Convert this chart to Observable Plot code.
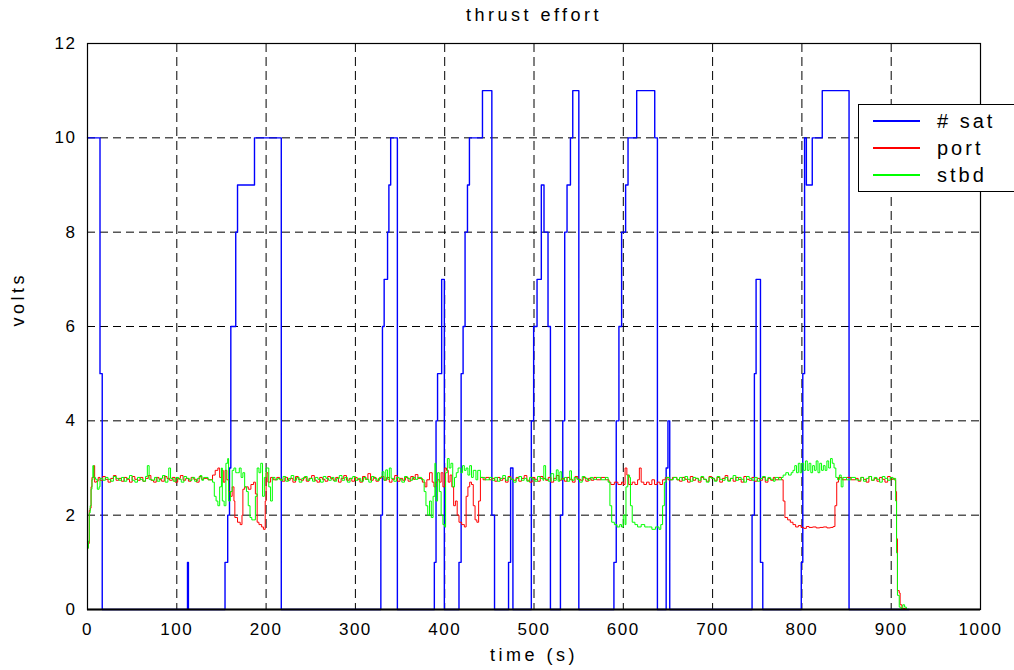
<!DOCTYPE html>
<html>
<head>
<meta charset="utf-8">
<script src="https://cdn.jsdelivr.net/npm/d3@7"></script>
<script src="https://cdn.jsdelivr.net/npm/@observablehq/plot@0.6"></script>
<style>
  html, body { margin: 0; padding: 0; background: #fff; overflow: hidden; }
  #wrap { position: relative; width: 1014px; height: 670px; overflow: hidden; }
  #legend { position: absolute; left: 858px; top: 104px; width: 170px; height: 86px;
    border: 1.5px solid #000; background: #fff; font-family: "Liberation Sans", Arial, sans-serif;
    font-size: 20px; letter-spacing: 3px; color: #000; }
  .row { position: absolute; left: 0; height: 26px; display: flex; align-items: center; }
  .sw { width: 47px; height: 2px; margin-left: 14px; margin-right: 17px; }
  svg g[aria-label="grid"] line { shape-rendering: crispEdges; }
</style>
</head>
<body>
<div id="wrap"></div>
<script>
// ---- data ----
const xTicks = [0, 100, 200, 300, 400, 500, 600, 700, 800, 900, 1000];
const yTicks = [0, 2, 4, 6, 8, 10, 12];
const seriesNames = ["# sat", "port", "stbd"];

// # satellites (step changes)
const satT = [0, 14, 16.5, 112, 113, 154, 157, 159, 160.5, 166, 168, 187, 217,
  328.5, 330.3, 332.2, 336, 337.5, 339.5, 347,
  388.4, 390.3, 392, 396.6, 399.6,
  416, 418.4, 420.6, 422.8, 425.5, 427.7, 442.3, 452.8, 455.8,
  471.5, 473.8, 476.4,
  497, 499.6, 503.4, 508.2, 511.2, 515.7, 518.4,
  529.6, 532.2, 534.4, 537, 540.8, 543.4, 550.2,
  589.5, 592.1, 595.1, 598.1, 602.6, 605.3, 615, 635.2, 638.2,
  648, 650, 652,
  744.2, 746.8, 748.7, 753.6, 756.2,
  799.3, 801, 803, 805, 811.6, 822.8, 852.8, 920];
const satV = [10, 5, 0, 1, 0, 1, 2, 3, 6, 8, 9, 10, 0,
  2, 6, 7, 8, 9, 10, 0,
  1, 4, 5, 7, 0,
  1, 5, 6, 8, 9, 10, 11, 2, 0,
  1, 3, 0,
  4, 6, 7, 9, 8, 6, 0,
  2, 4, 8, 9, 10, 11, 0,
  1, 4, 6, 8, 9, 10, 11, 10, 0,
  3, 4, 0,
  2, 5, 7, 1, 0,
  1, 5, 10, 9, 10, 11, 0, 0];

// port thruster
const portT = [0,1,2,3,4,5,7,8,10,12,14,17,20,23,26,29,32,35,38,41,44,47,50,53,56,59,62,65,68,71,74,77,80,83,86,89,92,95,98,101,104,107,110,113,116,119,122,125,128,
  130,135,140,143,146,148,150,152,154,156,158,160,162,164,165,168,171,173,174,176,178,180,183,186,188,190,192,195,197,199,200,202,205,208,212,
  215,218,221,224,227,230,233,236,239,242,245,248,251,254,257,260,263,266,269,272,275,278,281,284,287,290,293,296,299,302,305,308,311,314,317,320,323,326,
  329,332,335,338,341,344,347,350,353,356,359,362,365,367,
  370,375,378,380,383,386,388,390,392,394,396,398,400,402,404,406,408,410,412,414,416,419,422,424,426,428,430,432,434,436,438,440,443,446,450,
  453,456,459,462,465,468,471,474,477,480,483,486,489,492,495,498,501,504,507,510,513,516,519,522,525,528,531,534,537,540,543,546,549,552,555,558,561,564,567,
  570,575,580,584,586,590,594,598,600,602,604,606,610,613,616,618,620,623,626,629,632,635,638,641,644,647,650,655,660,
  663,666,669,672,675,678,681,684,687,690,693,696,699,702,705,708,711,714,717,720,723,726,729,732,735,738,741,744,747,750,753,756,759,762,765,768,
  770,774,777,779,781,784,787,790,793,796,799,802,805,808,812,816,820,824,828,832,835,837,839,841,845,850,855,860,
  863,866,869,872,875,878,881,884,887,890,893,896,899,902,904,905,906,907,909,910,912,916,920];
const portV = [1.30,1.40,2.10,2.15,2.60,2.80,3.05,2.70,2.72,2.80,2.74,2.82,2.76,2.70,2.78,2.84,2.74,2.78,2.72,2.80,2.76,2.70,2.82,2.76,2.74,2.80,2.72,2.78,2.84,2.74,2.70,2.80,2.76,2.72,2.82,2.78,2.74,2.80,2.70,2.78,2.84,2.74,2.78,2.72,2.80,2.76,2.70,2.82,2.76,
  2.78,2.75,2.85,2.95,3.00,2.80,2.95,2.70,2.95,2.75,2.50,2.40,2.60,2.30,1.95,1.85,1.80,2.00,2.55,2.60,2.60,2.55,2.65,2.70,2.45,1.85,1.80,1.75,1.70,2.30,2.90,2.70,2.80,2.75,2.80,
  2.76,2.72,2.80,2.74,2.78,2.70,2.82,2.76,2.74,2.80,2.72,2.78,2.84,2.74,2.70,2.80,2.76,2.72,2.82,2.78,2.74,2.80,2.70,2.78,2.84,2.74,2.78,2.72,2.80,2.76,2.70,2.82,2.76,2.88,2.74,2.80,2.72,2.78,
  2.82,2.74,2.80,2.70,2.76,2.84,2.72,2.78,2.74,2.80,2.72,2.82,2.76,2.86,
  2.78,2.70,2.60,2.75,2.90,2.70,2.60,2.70,2.75,2.70,2.90,2.60,3.00,2.95,2.70,2.85,2.60,2.20,2.30,2.00,1.85,1.80,1.75,2.40,2.60,2.70,2.65,2.20,1.90,1.85,2.30,2.80,2.75,2.80,2.75,
  2.78,2.72,2.80,2.74,2.78,2.70,2.82,2.76,2.74,2.80,2.72,2.78,2.84,2.74,2.70,2.80,2.76,2.72,2.82,2.78,2.74,2.80,2.70,2.78,2.84,2.74,2.78,2.72,2.80,2.76,2.70,2.82,2.76,2.74,2.80,2.72,2.78,2.74,2.80,
  2.75,2.80,2.75,2.70,2.65,2.70,2.65,2.70,2.65,3.00,2.85,2.65,2.70,2.65,2.75,3.00,2.70,2.65,2.70,2.65,2.75,2.65,2.70,2.65,2.75,2.80,2.75,2.80,2.75,
  2.72,2.80,2.76,2.70,2.82,2.74,2.78,2.70,2.80,2.76,2.72,2.82,2.78,2.74,2.80,2.70,2.78,2.84,2.74,2.78,2.72,2.80,2.76,2.70,2.82,2.76,2.74,2.80,2.72,2.78,2.74,2.80,2.70,2.78,2.74,2.80,
  2.75,2.80,2.75,2.30,1.95,1.90,1.85,1.80,1.75,1.78,1.74,1.72,1.76,1.74,1.75,1.73,1.74,1.75,1.73,1.74,1.76,2.20,2.70,2.80,2.75,2.80,2.75,2.78,
  2.72,2.80,2.76,2.70,2.82,2.74,2.78,2.72,2.80,2.76,2.70,2.82,2.76,2.78,2.74,2.50,1.50,0.40,0.35,0.10,0.02,0.00,0.00];

// starboard thruster
const stbdT = [0,1,2,3,4,5,6,7,9,11,13,14,17,20,23,26,29,32,35,38,41,44,47,50,53,56,59,62,65,67,69,72,75,78,81,84,87,90,91,93,96,99,102,105,108,111,114,117,120,123,126,128,
  130,135,140,142,144,146,148,150,151,153,155,157,158,160,162,164,166,168,170,172,174,176,178,180,182,184,186,188,190,192,194,196,198,200,203,205,207,210,
  213,216,219,222,225,228,231,234,237,240,243,246,249,252,255,258,261,264,267,270,273,276,279,282,285,288,291,294,297,300,303,306,309,312,315,318,321,324,327,
  330,332,334,336,338,340,343,346,349,352,355,358,361,364,367,
  370,374,377,379,381,383,385,387,389,390,392,394,396,398,400,401,403,405,407,409,411,413,415,418,420,422,424,426,428,430,432,435,437,440,445,450,
  453,456,459,462,465,468,471,474,477,480,483,486,489,492,495,498,501,504,507,510,511,513,516,519,522,525,527,529,531,534,537,540,542,545,548,551,554,557,560,563,566,
  570,575,580,583,585,587,590,593,596,598,600,602,603,605,607,608,610,613,616,620,624,628,632,636,640,642,644,646,648,652,656,660,
  663,666,669,672,675,678,681,684,687,690,693,696,699,702,705,708,711,714,717,720,723,726,729,732,735,738,741,744,747,750,753,756,759,762,765,768,
  770,774,777,779,782,785,788,790,792,794,796,798,800,802,804,806,808,810,812,814,816,818,820,822,824,826,828,830,832,834,836,838,840,842,844,846,850,855,860,
  863,866,869,872,875,878,881,884,887,890,893,896,899,902,904,905,906,907,909,911,913,915,917,920];
const stbdV = [1.30,1.45,2.05,2.20,2.55,2.75,3.05,2.80,2.76,2.55,2.60,2.78,2.74,2.80,2.76,2.72,2.82,2.78,2.74,2.80,2.72,2.78,2.84,2.74,2.70,2.80,2.76,2.72,2.82,3.05,2.76,2.74,2.80,2.72,2.78,2.84,2.70,2.76,3.00,2.78,2.72,2.80,2.76,2.70,2.82,2.78,2.74,2.80,2.72,2.78,2.84,2.74,
  2.80,2.75,2.70,2.40,2.30,2.20,2.60,3.00,2.30,2.20,3.10,3.20,2.30,2.50,2.95,3.00,2.90,2.90,3.00,2.80,2.90,2.60,2.50,2.20,1.95,1.90,1.90,2.40,3.00,2.90,3.10,2.40,2.80,3.00,2.60,2.30,2.80,2.75,
  2.78,2.74,2.82,2.72,2.78,2.84,2.74,2.80,2.70,2.78,2.82,2.74,2.78,2.72,2.80,2.76,2.70,2.82,2.78,2.74,2.80,2.72,2.78,2.84,2.74,2.80,2.70,2.78,2.82,2.74,2.78,2.72,2.80,2.76,2.70,2.82,2.78,2.74,2.80,
  2.92,2.74,2.96,2.76,3.00,2.78,2.72,2.80,2.76,2.70,2.82,2.78,2.74,2.80,2.76,
  2.80,2.75,2.50,2.20,2.00,2.30,1.95,2.40,3.10,2.30,2.90,2.50,2.00,1.80,1.75,2.90,3.20,3.00,3.10,2.60,2.80,2.90,3.00,2.90,3.05,2.95,3.00,2.85,3.05,2.80,2.95,2.75,2.95,2.80,2.75,2.80,
  2.74,2.80,2.72,2.78,2.84,2.74,2.80,2.76,2.70,2.78,2.82,2.74,2.78,2.72,2.80,2.76,2.72,2.82,2.78,2.74,3.05,2.76,2.72,2.88,2.74,2.96,2.72,2.92,2.76,2.80,2.72,2.94,2.74,2.80,2.76,2.70,2.82,2.78,2.74,2.80,2.76,
  2.80,2.75,2.80,2.70,2.20,1.85,1.80,1.75,1.80,1.75,2.00,1.80,2.60,2.85,2.80,2.20,1.85,1.80,1.75,1.80,1.75,1.75,1.70,1.75,1.70,1.80,2.20,2.70,2.80,2.75,2.80,2.75,
  2.80,2.74,2.82,2.76,2.72,2.80,2.78,2.74,2.82,2.76,2.70,2.80,2.78,2.72,2.82,2.76,2.74,2.80,2.72,2.78,2.84,2.74,2.80,2.76,2.70,2.82,2.78,2.74,2.80,2.72,2.78,2.82,2.74,2.80,2.76,2.72,
  2.80,2.75,2.80,2.85,2.90,2.85,2.90,2.95,3.05,2.90,3.10,2.90,3.10,2.95,3.15,2.95,3.10,2.90,3.05,2.95,3.15,2.90,3.10,2.95,3.05,2.95,3.15,3.00,3.20,3.10,3.00,2.80,2.75,2.85,2.60,2.80,2.75,2.80,2.75,
  2.74,2.80,2.72,2.78,2.82,2.74,2.80,2.76,2.70,2.82,2.78,2.74,2.80,2.76,2.78,2.30,1.20,0.30,0.05,0.02,0.10,0.05,0.00,0.00];

// ---- build ----
const sat = satT.map((t, i) => ({t, v: satV[i]}));
const port = portT.map((t, i) => ({t, v: portV[i]}));
const stbd = stbdT.map((t, i) => ({t, v: stbdV[i]}));
const colors = ["#0000ff", "#ff0000", "#00ff00"];

const font = '"Liberation Sans", Arial, Helvetica, sans-serif';
const chart = Plot.plot({
  width: 1014,
  height: 670,
  marginLeft: 87,
  marginRight: 34,
  marginTop: 43,
  marginBottom: 61,
  style: {fontFamily: font, fontSize: "17px", color: "#000", background: "#fff"},
  x: {domain: [0, 1000]},
  y: {domain: [0, 12]},
  marks: [
    Plot.gridX(xTicks.slice(1, -1), {stroke: "#000", strokeOpacity: 1, strokeWidth: 1, strokeDasharray: "9,5"}),
    Plot.gridY(yTicks.slice(1, -1), {stroke: "#000", strokeOpacity: 1, strokeWidth: 1, strokeDasharray: "8,5"}),
    Plot.line(sat, {x: "t", y: "v", stroke: colors[0], strokeWidth: 1.4, curve: "step-after"}),
    Plot.line(port, {x: "t", y: "v", stroke: colors[1], strokeWidth: 1, curve: "step-after"}),
    Plot.line(stbd, {x: "t", y: "v", stroke: colors[2], strokeWidth: 1, curve: "step-after"}),
    Plot.ruleY([0], {stroke: "#000", strokeWidth: 2}),
    Plot.frame({stroke: "#000", strokeWidth: 1.2}),
    Plot.axisX(xTicks, {tickSize: 0, tickPadding: 13, label: null, fontSize: 17, tickFormat: d => String(d)}),
    Plot.axisY(yTicks, {tickSize: 0, tickPadding: 11, label: null, fontSize: 17, tickFormat: d => String(d)}),
    Plot.text(["thrust effort"], {frameAnchor: "top", lineAnchor: "middle", dy: -28, fontSize: 18}),
    Plot.text(["time (s)"], {frameAnchor: "bottom", lineAnchor: "middle", dy: 46, fontSize: 18}),
    Plot.text(["volts"], {frameAnchor: "left", dx: -69, rotate: -90, fontSize: 18})
  ]
});
d3.select(chart).selectAll("g[aria-label='x-axis tick label'] text, g[aria-label='y-axis tick label'] text").style("letter-spacing", "1.5px");
d3.select(chart).selectAll("g[aria-label='text'] text").style("letter-spacing", "3.5px");
const wrap = document.getElementById("wrap");
wrap.appendChild(chart);

// legend
const legend = document.createElement("div");
legend.id = "legend";
seriesNames.forEach((name, i) => {
  const row = document.createElement("div");
  row.className = "row";
  row.style.top = (3 + i * 27) + "px";
  const sw = document.createElement("div");
  sw.className = "sw";
  sw.style.background = colors[i];
  const lab = document.createElement("span");
  lab.textContent = name;
  row.appendChild(sw);
  row.appendChild(lab);
  legend.appendChild(row);
});
wrap.appendChild(legend);
</script>
</body>
</html>
